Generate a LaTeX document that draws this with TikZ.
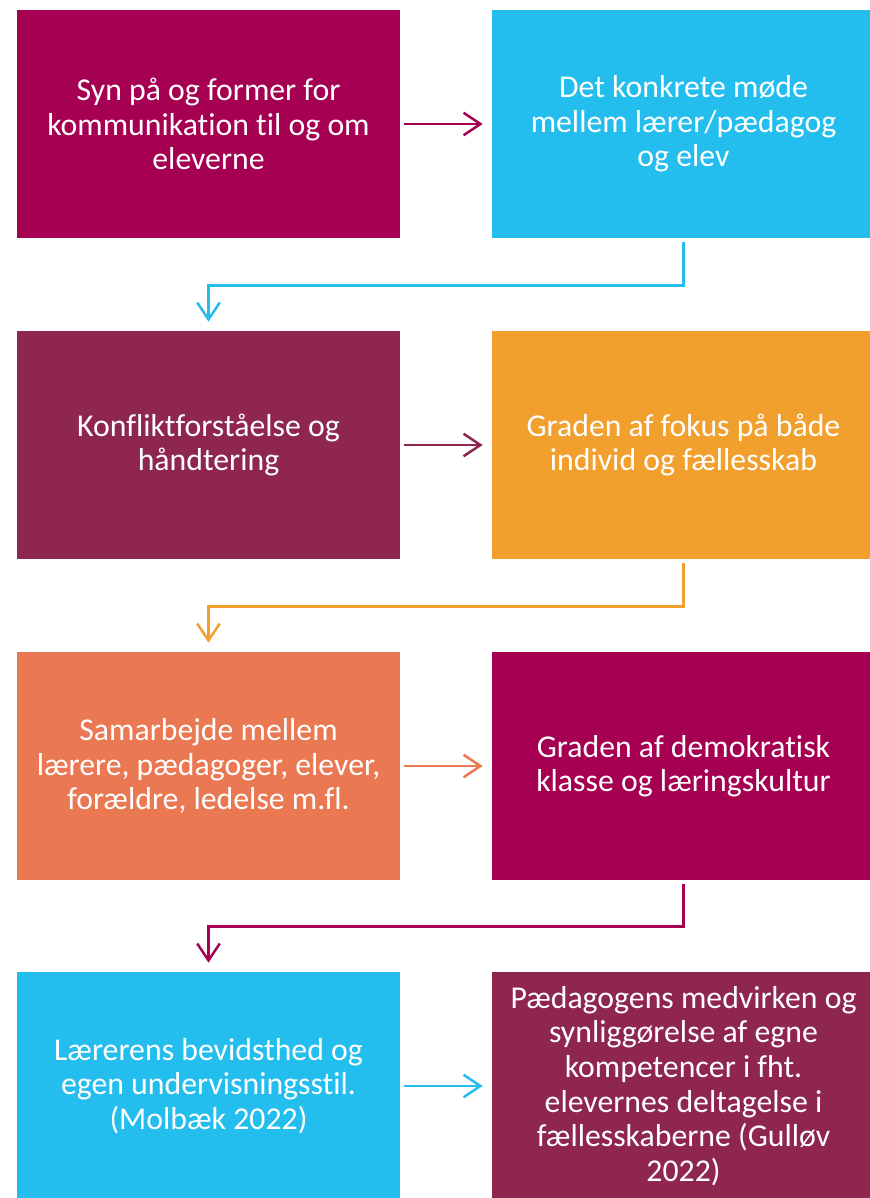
\documentclass[tikz,border=0pt]{standalone}
\usepackage{fontspec}
\setmainfont[RawFeature=-liga]{Carlito}
\usetikzlibrary{positioning, arrows.meta}
\definecolor{KlasseMagenta}{HTML}{A50052}
\definecolor{KlasseCyan}{HTML}{24BEEE}
\definecolor{KlassePlum}{HTML}{8E2650}
\definecolor{KlasseOrange}{HTML}{F2A02D}
\definecolor{KlasseCoral}{HTML}{EA7852}

\begin{document}
\begin{tikzpicture}[x=0.025cm, y=-0.025cm,
    box/.style={fill=#1, text=white, font=\fontsize{22.6}{24.6}\selectfont, align=center, inner sep=0pt, minimum width=383*0.025cm, minimum height=228*0.025cm},
    link/.style={#1, line width=1.8pt, -{Straight Barb[length=12pt, width=16pt, line width=1.8pt]}, shorten <=4*0.025cm, shorten >=9*0.025cm}]
                \useasboundingbox (0,0) rectangle (869,1198);
                % Boxes
                \node[box=KlasseMagenta] (kom) at (208.5, 124) {Syn på og former for\\kommunikation til og om\\eleverne};
                
                \node[box=KlasseCyan] (moede) at (683.5, 124) {Det konkrete møde\\mellem lærer/pædagog\\og elev};
                
                \node[box=KlassePlum] (konflikt) at (208.5, 445) {Konfliktforståelse og\\håndtering};
                
                \node[box=KlasseOrange] (fokus) at (683.5, 445) {Graden af fokus på både\\individ og fællesskab};
                
                \node[box=KlasseCoral] (samarb) at (208.5, 766) {Samarbejde mellem\\lærere, pædagoger, elever,\\forældre, ledelse m.fl.};
                
                \node[box=KlasseMagenta] (demo) at (683.5, 766) {Graden af demokratisk\\klasse og læringskultur};
                
                \node[box=KlasseCyan] (laerer) at (208.5, 1086) {Lærerens bevidsthed og\\egen undervisningsstil.\\(Molbæk 2022)};
                
                \node[box=KlassePlum] (paed) at (683.5, 1086) {Pædagogens medvirken og\\synliggørelse af egne\\kompetencer i fht.\\elevernes deltagelse i\\fællesskaberne (Gulløv\\2022)};
                
                % Arrows
                \draw[link=KlasseMagenta] (kom) -- (moede.west);
                \draw[link=KlassePlum] (konflikt) -- (fokus.west);
                \draw[link=KlasseCoral] (samarb) -- (demo.west);
                \draw[link=KlasseCyan] (laerer) -- (paed.west);
                
                % Elbows
                \draw[link=KlasseCyan] (moede.south) -- ++(0, 47) -| (konflikt.north);
                \draw[link=KlasseOrange] (fokus.south) -- ++(0, 47) -| (samarb.north);
                \draw[link=KlasseMagenta] (demo.south) -- ++(0, 46) -| (laerer.north);
            \end{tikzpicture}
\end{document}
